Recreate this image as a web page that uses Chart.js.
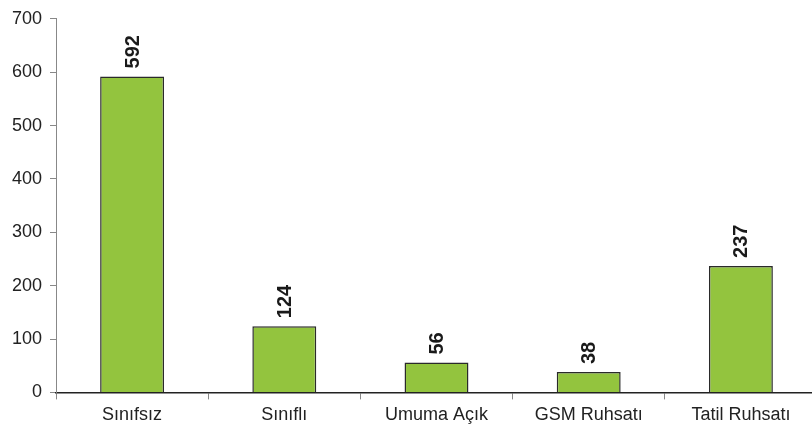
<!DOCTYPE html>
<html><head><meta charset="utf-8">
<script src="https://cdn.jsdelivr.net/npm/chart.js@4"></script>
<style>html,body{margin:0;padding:0;background:#fff;overflow:hidden;width:812px;height:432px}#wrap{width:817px;height:432px}</style>
</head><body><div id="wrap"><canvas id="c"></canvas></div>
<script>
const categories = ["Sınıfsız", "Sınıflı", "Umuma Açık", "GSM Ruhsatı", "Tatil Ruhsatı"];
const values = [592, 124, 56, 38, 237];
const yTicks = [0, 100, 200, 300, 400, 500, 600, 700];

const labelPlugin = {
  id: 'vlabels',
  afterDatasetsDraw(chart) {
    const ctx = chart.ctx;
    const meta = chart.getDatasetMeta(0);
    ctx.save();
    ctx.font = 'bold 20px "Liberation Sans", Arial, sans-serif';
    ctx.fillStyle = '#1a1a1a';
    ctx.textAlign = 'left';
    ctx.textBaseline = 'middle';
    meta.data.forEach((bar, i) => {
      ctx.save();
      ctx.translate(bar.x, bar.y - 8);
      ctx.rotate(-Math.PI / 2);
      ctx.fillText(String(values[i]), 0, 1);
      ctx.restore();
    });
    ctx.restore();
  }
};

new Chart(document.getElementById('c'), {
  type: 'bar',
  data: {
    labels: categories,
    datasets: [{
      data: values,
      backgroundColor: '#93c43e',
      borderColor: '#2a2a2a',
      borderWidth: 1.5,
      borderSkipped: 'bottom',
      categoryPercentage: 0.84,
      barPercentage: 0.5
    }]
  },
  options: {
    responsive: true,
    maintainAspectRatio: false,
    animation: false,
    layout: { padding: { top: 12, right: 0, left: 0, bottom: 1 } },
    plugins: { legend: { display: false }, tooltip: { enabled: false } },
    scales: {
      x: {
        offset: true,
        grid: { display: true, offset: true, drawOnChartArea: false, drawTicks: true, tickLength: 7, color: '#888' },
        border: { display: true, color: '#222', width: 1.5 },
        ticks: { color: '#222', font: { family: '"Liberation Sans", Arial, sans-serif', size: 18 }, padding: 5, maxRotation: 0 }
      },
      y: {
        min: 0, max: 700,
        afterBuildTicks(axis) { axis.ticks = yTicks.map(v => ({ value: v })); },
        afterFit(axis) { axis.width = 56; },
        grid: { display: true, drawOnChartArea: false, drawTicks: true, tickLength: 6, color: '#888' },
        border: { display: true, color: '#888', width: 1 },
        ticks: { color: '#222', font: { family: '"Liberation Sans", Arial, sans-serif', size: 18 }, padding: 8 }
      }
    }
  },
  plugins: [labelPlugin]
});
</script></body></html>
